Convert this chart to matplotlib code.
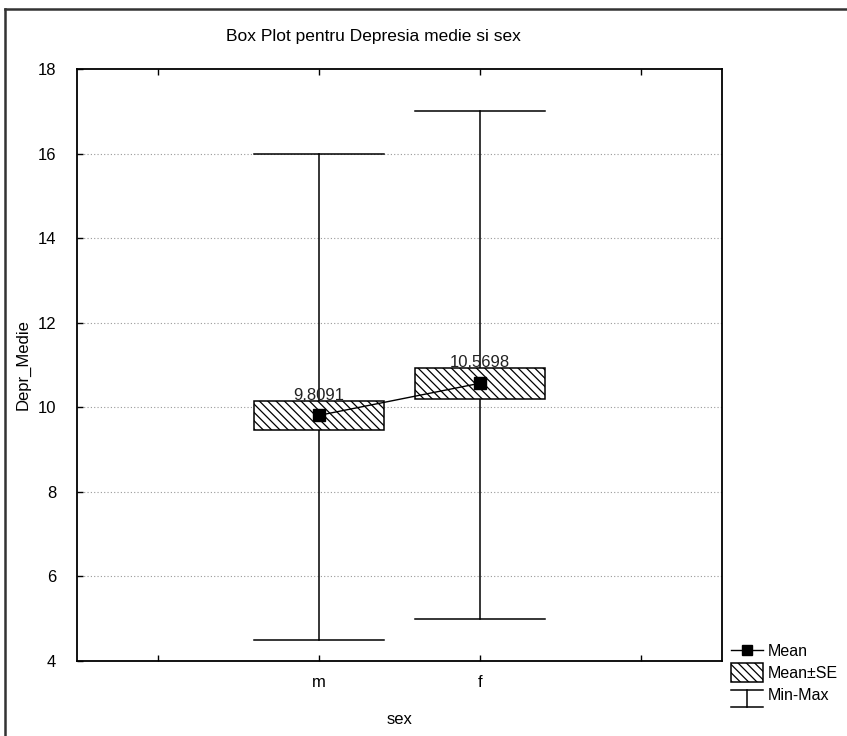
import numpy as np
import matplotlib
matplotlib.use('Agg')
import matplotlib.pyplot as plt
from matplotlib.lines import Line2D
from matplotlib.patches import Patch, Rectangle
from matplotlib.legend_handler import HandlerBase

plt.rcParams['font.family'] = ['Liberation Sans', 'DejaVu Sans']
plt.rcParams['hatch.linewidth'] = 0.9

# date: media, eroarea standard, minim si maxim pe sex
categorii = ['m', 'f']
medii = [9.8091, 10.5698]
se = [0.35, 0.37]
minime = [4.5, 5.0]
maxime = [16.0, 17.0]
etichete = ['9,8091', '10,5698']


class HandlerMinMax(HandlerBase):
    # simbol pentru Min-Max: o bara verticala cu capete
    def create_artists(self, legend, orig_handle, xdescent, ydescent,
                       width, height, fontsize, trans):
        xc = width / 2 - xdescent
        y0 = -ydescent - height * 0.55
        y1 = -ydescent + height * 0.95
        l1 = Line2D([xc, xc], [y0, y1], color='black', lw=1.1)
        l2 = Line2D([0, width], [y1, y1], color='black', lw=1.1)
        l3 = Line2D([0, width], [y0, y0], color='black', lw=1.1)
        for l in (l1, l2, l3):
            l.set_transform(trans)
        return [l1, l2, l3]


class HandlerHasura(HandlerBase):
    # dreptunghi hasurat mai inalt pentru Mean±SE
    def create_artists(self, legend, orig_handle, xdescent, ydescent,
                       width, height, fontsize, trans):
        r = Rectangle((-xdescent, -ydescent - height * 0.35), width, height * 1.7,
                      facecolor='white', edgecolor='black', hatch='\\\\\\\\', lw=1.1)
        r.set_transform(trans)
        return [r]


fig = plt.figure(figsize=(8.47, 7.36), dpi=100)
ax = fig.add_axes([0.0909, 0.1019, 0.7615, 0.8043])

x = np.arange(1, len(categorii) + 1)
w = 0.81

for i in range(len(categorii)):
    # min-max
    ax.plot([x[i], x[i]], [minime[i], maxime[i]], color='black', lw=1.1, zorder=2)
    ax.plot([x[i] - w / 2, x[i] + w / 2], [maxime[i], maxime[i]], color='black', lw=1.1, zorder=2)
    ax.plot([x[i] - w / 2, x[i] + w / 2], [minime[i], minime[i]], color='black', lw=1.1, zorder=2)
    # media +- SE
    ax.add_patch(Rectangle((x[i] - w / 2, medii[i] - se[i]), w, 2 * se[i],
                           facecolor='white', edgecolor='black', hatch='\\\\\\\\',
                           lw=1.1, zorder=3))
    ax.text(x[i], medii[i] + se[i] + 0.12, etichete[i], ha='center', va='center',
            fontsize=12, color='#222222', zorder=5)

ax.plot(x, medii, color='black', lw=1.0, marker='s', markersize=8, zorder=4)

ax.set_xlim(-0.5, 3.5)
ax.set_ylim(4, 18)
ax.set_xticks([0, 1, 2, 3])
ax.set_xticklabels(['', 'm', 'f', ''])
ax.set_yticks(np.arange(4, 19, 2))
ax.tick_params(direction='in', length=4, width=1, labelsize=12, top=True, right=False)
ax.tick_params(axis='x', pad=10)
ax.tick_params(axis='y', pad=15)
for yv in np.arange(6, 18, 2):
    ax.axhline(yv, color='#999999', lw=0.8, ls=(0, (1, 2)), zorder=1)
for s in ax.spines.values():
    s.set_linewidth(1.3)

ax.set_xlabel('sex', fontsize=12, labelpad=16)
ax.set_ylabel('Depr_Medie', fontsize=12, labelpad=5)
fig.text(373 / 847, 1 - 37 / 736, 'Box Plot pentru Depresia medie si sex',
         ha='center', va='center', fontsize=12.5)

h_mean = Line2D([], [], color='black', lw=1.0, marker='s', markersize=7)
h_se = Patch(facecolor='white', edgecolor='black')
h_mm = object()
fig.legend([h_mean, h_se, h_mm], ['Mean', 'Mean±SE', 'Min-Max'],
           handler_map={object: HandlerMinMax(), Patch: HandlerHasura()},
           loc='upper left', bbox_to_anchor=(731 / 847, 1 - 644 / 736),
           frameon=False, fontsize=11.5, handlelength=2.0, handletextpad=0.3,
           labelspacing=0.45, borderaxespad=0, borderpad=0)

# chenar exterior
fig.add_artist(Line2D([5 / 847, 5 / 847], [0, 1 - 9 / 736], transform=fig.transFigure,
                      color='#333333', lw=1.8))
fig.add_artist(Line2D([5 / 847, 1], [1 - 9 / 736, 1 - 9 / 736], transform=fig.transFigure,
                      color='#333333', lw=1.8))

fig.savefig('out.png', dpi=100)
